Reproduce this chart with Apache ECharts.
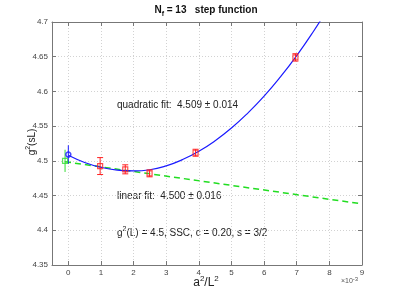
<!DOCTYPE html>
<html><head><meta charset="utf-8">
<script src="https://cdn.jsdelivr.net/npm/echarts@6/dist/echarts.min.js"></script>
<style>html,body{margin:0;padding:0;background:#fff}#c{width:399px;height:299px}</style>
</head><body><div id="c"></div>
<script>
// ---- data ----
const xTickLabels = [0,1,2,3,4,5,6,7,8,9];
const yTickLabels = [4.35,4.4,4.45,4.5,4.55,4.6,4.65,4.7];

// lattice data points (red)
const dataX   = [0.975, 1.745, 2.49, 3.9, 6.96];
const dataY   = [4.4925, 4.4878, 4.482, 4.5117, 4.649];
const dataErr = [0.0122, 0.0065, 0.005, 0.005, 0.0053];

// continuum extrapolations
const quadExtrap = [0.0, 4.509, 0.0134];   // x, y, err (blue)
const linExtrap  = [-0.1, 4.500, 0.016];   // x, y, err (green)

// quadratic fit curve
const quadCurveX = [0, 0.5, 1, 1.5, 2, 2.5, 3, 3.5, 4, 4.5, 5, 5.5, 6, 6.5, 7, 7.5, 8];
const quadCurveY = [4.5080, 4.4977, 4.4907, 4.4867, 4.4855, 4.4872, 4.4928, 4.5018, 4.5138, 4.5290, 4.5473, 4.5688, 4.5932, 4.6209, 4.6516, 4.6856, 4.7226];

// linear fit line
const linLineX = [-0.1, 9];
const linLineY = [4.4987, 4.438];

const FONT = "'Liberation Sans', Arial, Helvetica, sans-serif";
const chart = echarts.init(document.getElementById('c'), null, {renderer: 'canvas'});

function errBars(capHalf, color) {
  return function (params, api) {
    const x = api.value(0), y = api.value(1), e = api.value(2);
    const t = api.coord([x, y + e]), b = api.coord([x, y - e]);
    const style = {stroke: color, lineWidth: 1};
    const ch = [{type: 'line', shape: {x1: t[0], y1: t[1], x2: b[0], y2: b[1]}, style}];
    if (capHalf > 0) {
      ch.push({type: 'line', shape: {x1: t[0] - capHalf, y1: t[1], x2: t[0] + capHalf, y2: t[1]}, style});
      ch.push({type: 'line', shape: {x1: b[0] - capHalf, y1: b[1], x2: b[0] + capHalf, y2: b[1]}, style});
    }
    return {type: 'group', children: ch};
  };
}

const zip2 = (a, b) => a.map((v, i) => [v, b[i]]);
const zip3 = (a, b, c) => a.map((v, i) => [v, b[i], c[i]]);

const axisCol = '#777';
const gridLine = {show: true, lineStyle: {color: '#d2d2d2', type: [1, 2], width: 1}};

chart.setOption({
  animation: false,
  grid: {left: 52, right: 37, top: 22, bottom: 34},
  xAxis: [{
    type: 'value', min: -0.5, max: 9, interval: 0.25, position: 'bottom',
    axisLine: {show: true, onZero: false, lineStyle: {color: axisCol, width: 1}},
    axisTick: {show: true, inside: true, length: 4, customValues: xTickLabels, lineStyle: {color: axisCol}},
    axisLabel: {show: true, customValues: xTickLabels, fontSize: 8, color: '#444', fontFamily: FONT, margin: 4},
    splitLine: gridLine
  }, {
    type: 'value', min: -0.5, max: 9, interval: 0.25, position: 'top',
    axisLine: {show: true, onZero: false, lineStyle: {color: axisCol, width: 1}},
    axisTick: {show: true, inside: true, length: 4, customValues: xTickLabels, lineStyle: {color: axisCol}},
    axisLabel: {show: false}, splitLine: {show: false}
  }],
  yAxis: [{
    type: 'value', min: 4.35, max: 4.7, interval: 0.01, position: 'left',
    axisLine: {show: true, onZero: false, lineStyle: {color: axisCol, width: 1}},
    axisTick: {show: true, inside: true, length: 4, customValues: yTickLabels, lineStyle: {color: axisCol}},
    axisLabel: {show: true, customValues: yTickLabels, fontSize: 8, color: '#444', fontFamily: FONT, margin: 4,
      formatter: v => String(+(+v).toFixed(2))},
    splitLine: gridLine
  }, {
    type: 'value', min: 4.35, max: 4.7, interval: 0.01, position: 'right',
    axisLine: {show: true, onZero: false, lineStyle: {color: axisCol, width: 1}},
    axisTick: {show: true, inside: true, length: 4, customValues: yTickLabels, lineStyle: {color: axisCol}},
    axisLabel: {show: false}, splitLine: {show: false}
  }],
  series: [
    {type: 'line', data: zip2(linLineX, linLineY), showSymbol: false, symbol: 'none',
     lineStyle: {color: '#22dd22', width: 1.5, type: [6, 4]}, z: 3},
    {type: 'line', data: zip2(quadCurveX, quadCurveY), showSymbol: false, symbol: 'none', smooth: true,
     lineStyle: {color: '#1a1aff', width: 1.2}, clip: true, z: 4},
    {type: 'custom', data: zip3(dataX, dataY, dataErr), renderItem: errBars(3, '#ff2020'), z: 5},
    {type: 'scatter', data: zip2(dataX, dataY), symbol: 'rect', symbolSize: 5,
     itemStyle: {color: 'rgba(0,0,0,0)', borderColor: '#ff2020', borderWidth: 1.2}, z: 6},
    {type: 'custom', data: [linExtrap], renderItem: errBars(0, '#33dd33'), z: 5},
    {type: 'scatter', data: [[linExtrap[0], linExtrap[1]]], symbol: 'rect', symbolSize: 5,
     itemStyle: {color: 'rgba(0,0,0,0)', borderColor: '#33dd33', borderWidth: 1.2}, z: 6},
    {type: 'custom', data: [quadExtrap], renderItem: errBars(0, '#1a1aff'), z: 5},
    {type: 'scatter', data: [[quadExtrap[0], quadExtrap[1]]], symbol: 'circle', symbolSize: 5,
     itemStyle: {color: 'rgba(0,0,0,0)', borderColor: '#1a1aff', borderWidth: 1.5}, z: 6}
  ],
  graphic: [
    {type: 'text', x: 206, y: 10, style: {
      text: '{b|N}{s|f}{b| = 13   step function}', align: 'center', verticalAlign: 'middle',
      rich: {b: {fontSize: 10, fontWeight: 'bold', fontFamily: FONT, fill: '#111', lineHeight: 15},
             s: {fontSize: 7, fontWeight: 'bold', fontFamily: FONT, fill: '#111', lineHeight: 9, verticalAlign: 'bottom'}}}},
    {type: 'text', x: 32, y: 142, rotation: Math.PI / 2, style: {
      text: '{n|g}{p|2}{n|(sL)}', align: 'center', verticalAlign: 'middle',
      rich: {n: {fontSize: 10, fontFamily: FONT, fill: '#222', lineHeight: 14},
             p: {fontSize: 7, fontFamily: FONT, fill: '#222', lineHeight: 8, verticalAlign: 'top'}}}},
    {type: 'text', x: 206, y: 283, style: {
      text: '{n|a}{p|2}{n|/L}{p|2}', align: 'center', verticalAlign: 'middle',
      rich: {n: {fontSize: 12, fontFamily: FONT, fill: '#222', lineHeight: 16},
             p: {fontSize: 8, fontFamily: FONT, fill: '#222', lineHeight: 9, verticalAlign: 'top'}}}},
    {type: 'text', x: 341, y: 281, style: {
      text: '{n|×10}{p|-3}', align: 'left', verticalAlign: 'middle',
      rich: {n: {fontSize: 7, fontFamily: FONT, fill: '#555', lineHeight: 10},
             p: {fontSize: 6, fontFamily: FONT, fill: '#555', lineHeight: 7, verticalAlign: 'top'}}}},
    {type: 'text', x: 117, y: 105, style: {
      text: 'quadratic fit:  4.509 ± 0.014', align: 'left', verticalAlign: 'middle',
      fontSize: 10, fontFamily: FONT, fill: '#222'}},
    {type: 'text', x: 117, y: 196, style: {
      text: 'linear fit:  4.500 ± 0.016', align: 'left', verticalAlign: 'middle',
      fontSize: 10, fontFamily: FONT, fill: '#222'}},
    {type: 'text', x: 117, y: 233, style: {
      text: '{n|g}{p|2}{n|(L) = 4.5, SSC, c = 0.20, s = 3/2}', align: 'left', verticalAlign: 'middle',
      rich: {n: {fontSize: 10, fontFamily: FONT, fill: '#222', lineHeight: 14},
             p: {fontSize: 7, fontFamily: FONT, fill: '#222', lineHeight: 8, verticalAlign: 'top'}}}}
  ]
});
</script></body></html>
